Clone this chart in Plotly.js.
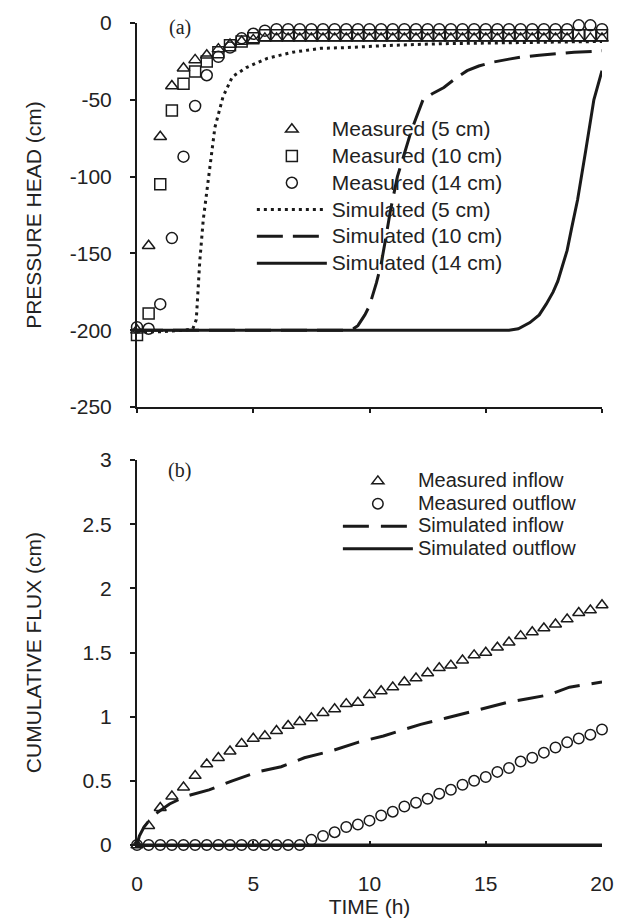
<!DOCTYPE html>
<html>
<head>
<meta charset="utf-8">
<script src="https://cdn.plot.ly/plotly-3.0.1.min.js"></script>
<style>html,body{margin:0;padding:0;background:#fff;}#chart{width:622px;height:919px;}</style>
</head>
<body>
<div id="chart"></div>
<script>
// ---------- Panel (a): pressure head ----------
const timeMeasured = [0,0.5,1,1.5,2,2.5,3,3.5,4,4.5,5,5.5,6,6.5,7,7.5,8,8.5,9,9.5,10,10.5,11,11.5,12,12.5,13,13.5,14,14.5,15,15.5,16,16.5,17,17.5,18,18.5,19,19.5,20];
const measured5 = [-200,-145,-74,-41,-29.5,-24,-21,-17,-14,-12,-11,-10,-10,-10,-10,-10,-10,-10,-10,-10,-10,-10,-10,-10,-10,-10,-10,-10,-10,-10,-10,-10,-10,-10,-10,-10,-10,-10,-10,-10,-10];
const measured10 = [-203,-189,-105,-57,-39.5,-31.5,-25,-19,-14.5,-12,-10,-8,-8,-8,-8,-8,-8,-8,-8,-8,-8,-8,-8,-8,-8,-8,-8,-8,-8,-8,-8,-8,-8,-8,-8,-8,-8,-8,-8,-8,-8];
const measured14 = [-198,-199,-183,-140,-87,-54,-34,-22,-16,-10,-7,-5,-4,-4,-4,-4,-4,-4,-4,-4,-4,-4,-4,-4,-4,-4,-4,-4,-4,-4,-4,-4,-4,-4,-4,-4,-4,-4,-1.5,-1.5,-4];

const timeSim5 = [0,1,2,2.4,2.55,2.7,2.85,3.1,3.35,3.7,4.1,4.7,5.6,6.7,7.9,9,11,13,15,17,20];
const sim5 = [-201,-201,-200,-199,-193,-155,-128,-98,-68,-48,-35,-29,-23,-19,-16.5,-16,-14.5,-13.5,-13,-12.5,-12];

const timeSim10 = [0,3,6,9,9.3,9.5,9.8,10.0,10.3,10.5,10.7,10.9,11.2,11.5,11.8,12.0,12.3,12.7,13.2,13.7,14.2,14.7,15.3,16.0,16.6,17.3,18.0,18.8,19.6,20];
const sim10 = [-200,-200,-200,-200,-199,-197,-190,-184,-169,-157,-140,-122,-100,-85,-70,-62,-50,-46,-42,-36,-31,-28,-25.5,-23.5,-22,-21,-20,-19,-18.5,-18];

const timeSim14 = [0,4,8,12,16,16.4,16.9,17.3,17.6,17.9,18.1,18.3,18.5,18.7,18.95,19.3,19.65,20];
const sim14 = [-200,-200,-200,-200,-200,-199,-195,-190,-183,-175,-168,-158,-148,-133,-115,-83,-50,-31];

// ---------- Panel (b): cumulative flux ----------
const measuredInflow = [0,0.15,0.29,0.38,0.45,0.54,0.63,0.68,0.73,0.79,0.83,0.85,0.89,0.93,0.96,0.99,1.03,1.06,1.10,1.11,1.17,1.20,1.23,1.27,1.30,1.34,1.38,1.40,1.44,1.48,1.50,1.54,1.58,1.63,1.66,1.69,1.72,1.76,1.81,1.83,1.87];
const measuredOutflow = [0,0,0,0,0,0,0,0,0,0,0,0,0,0,0,0.04,0.07,0.10,0.14,0.16,0.19,0.23,0.26,0.30,0.33,0.36,0.40,0.43,0.47,0.50,0.53,0.57,0.60,0.65,0.68,0.72,0.76,0.80,0.83,0.86,0.90];

const timeSimIn = [0,0.1,0.3,0.7,1.4,2.1,3.1,4.1,5.2,6.2,7.2,8.3,9.5,10.6,11.3,12.2,13.3,14.2,15.1,15.9,16.8,17.7,18.6,19.6,20];
const simInflow = [0,0.07,0.14,0.23,0.32,0.38,0.43,0.50,0.57,0.61,0.68,0.73,0.80,0.85,0.89,0.94,0.99,1.03,1.07,1.11,1.14,1.17,1.23,1.26,1.27];

const timeSimOut = [0,5,10,15,20];
const simOutflow = [0,0,0,0,0];

// ---------- Labels ----------
const namesA = ['Measured (5 cm)','Measured (10 cm)','Measured (14 cm)','Simulated (5 cm)','Simulated (10 cm)','Simulated (14 cm)'];
const namesB = ['Measured inflow','Measured outflow','Simulated inflow','Simulated outflow'];
const xTickVals = [0,5,10,15,20];
const xTickText = ['0','5','10','15','20'];
const yTickValsA = [-250,-200,-150,-100,-50,0];
const yTickTextA = ['-250','-200','-150','-100','-50','0'];
const yTickValsB = [0,0.5,1,1.5,2,2.5,3];
const yTickTextB = ['0','0.5','1','1.5','2','2.5','3'];

const FONT = 'Arial, "Liberation Sans", sans-serif';
const SERIF = '"Times New Roman", "Liberation Serif", serif';
const INK = '#1a1a1a';
const spanA = s => '<span style="font-size:21px">' + s + '</span>';
const spanB = s => '<span style="font-size:20px">' + s + '</span>';

const mk = (sym, size) => ({symbol: sym, size: size, color: INK, line: {color: INK, width: 1.5}});

const traces = [
  {x: timeMeasured, y: measured5, mode: 'markers', name: spanA(namesA[0]), marker: mk('triangle-up-open', 11), xaxis: 'x', yaxis: 'y', legend: 'legend', cliponaxis: false},
  {x: timeMeasured, y: measured10, mode: 'markers', name: spanA(namesA[1]), marker: mk('square-open', 11), xaxis: 'x', yaxis: 'y', legend: 'legend', cliponaxis: false},
  {x: timeMeasured, y: measured14, mode: 'markers', name: spanA(namesA[2]), marker: mk('circle-open', 11), xaxis: 'x', yaxis: 'y', legend: 'legend', cliponaxis: false},
  {x: timeSim5, y: sim5, mode: 'lines', name: spanA(namesA[3]), line: {color: INK, width: 3, dash: '3px,4px'}, xaxis: 'x', yaxis: 'y', legend: 'legend', cliponaxis: false},
  {x: timeSim10, y: sim10, mode: 'lines', name: spanA(namesA[4]), line: {color: INK, width: 3, dash: '26px,10px'}, xaxis: 'x', yaxis: 'y', legend: 'legend', cliponaxis: false},
  {x: timeSim14, y: sim14, mode: 'lines', name: spanA(namesA[5]), line: {color: INK, width: 3}, xaxis: 'x', yaxis: 'y', legend: 'legend', cliponaxis: false},

  {x: timeMeasured, y: measuredInflow, mode: 'markers', name: spanB(namesB[0]), marker: mk('triangle-up-open', 10.5), xaxis: 'x2', yaxis: 'y2', legend: 'legend2', cliponaxis: false},
  {x: timeMeasured, y: measuredOutflow, mode: 'markers', name: spanB(namesB[1]), marker: mk('circle-open', 10.5), xaxis: 'x2', yaxis: 'y2', legend: 'legend2', cliponaxis: false},
  {x: timeSimIn, y: simInflow, mode: 'lines', name: spanB(namesB[2]), line: {color: INK, width: 3, dash: '26px,12px'}, xaxis: 'x2', yaxis: 'y2', legend: 'legend2', cliponaxis: false},
  {x: timeSimOut, y: simOutflow, mode: 'lines', name: spanB(namesB[3]), line: {color: INK, width: 3}, xaxis: 'x2', yaxis: 'y2', legend: 'legend2', cliponaxis: false}
];

const axisBase = {
  showgrid: false, zeroline: false, showline: true, linecolor: INK, linewidth: 2,
  tickcolor: INK, tickwidth: 2, tickfont: {family: FONT, size: 21, color: '#222'},
  tickmode: 'array'
};

const layout = {
  width: 622, height: 919,
  margin: {l: 137.3, r: 20.3, t: 22.7, b: 74, pad: 0},
  paper_bgcolor: '#fff', plot_bgcolor: '#fff',
  font: {family: FONT, color: '#222'},
  showlegend: true,
  xaxis: Object.assign({}, axisBase, {
    domain: [0, 1], anchor: 'y', range: [0, 20], tickvals: xTickVals, ticktext: xTickText,
    showticklabels: false, ticks: 'outside', ticklen: 4
  }),
  yaxis: Object.assign({}, axisBase, {
    domain: [0.5327, 1], anchor: 'x', range: [-250, 0], tickvals: yTickValsA, ticktext: yTickTextA,
    ticks: 'outside', ticklen: 5, ticklabelstandoff: 14,
    title: {text: 'PRESSURE HEAD (cm)', font: {family: FONT, size: 21, color: '#222'}, standoff: 22}
  }),
  xaxis2: Object.assign({}, axisBase, {
    domain: [0, 1], anchor: 'y2', range: [0, 20], tickvals: xTickVals, ticktext: xTickText,
    ticks: 'inside', ticklen: 4, ticklabelstandoff: 19,
    title: {text: 'TIME (h)', font: {family: FONT, size: 21, color: '#222'}, standoff: 4}
  }),
  yaxis2: Object.assign({}, axisBase, {
    domain: [0, 0.4682], anchor: 'x2', range: [0, 3], tickvals: yTickValsB, ticktext: yTickTextB,
    ticks: 'outside', ticklen: 5, ticklabelstandoff: 14,
    title: {text: 'CUMULATIVE FLUX (cm)', font: {family: FONT, size: 21, color: '#222'}, standoff: 35}
  }),
  legend: {
    x: 0.2470, y: 0.8932, xanchor: 'left', yanchor: 'top', bgcolor: 'rgba(0,0,0,0)',
    borderwidth: 0, itemwidth: 70, font: {family: FONT, size: 18.3, color: '#222'}, tracegroupgap: 0
  },
  legend2: {
    x: 0.432, y: 0.4624, xanchor: 'left', yanchor: 'top', bgcolor: 'rgba(0,0,0,0)',
    borderwidth: 0, itemwidth: 70, font: {family: FONT, size: 15, color: '#222'}, tracegroupgap: 0
  },
  annotations: [
    {text: '(a)', xref: 'x', yref: 'y', x: 1.84, y: -2.8, showarrow: false, xanchor: 'center', yanchor: 'middle', font: {family: SERIF, size: 20, color: '#222'}},
    {text: '(b)', xref: 'x2', yref: 'y2', x: 1.84, y: 2.92, showarrow: false, xanchor: 'center', yanchor: 'middle', font: {family: SERIF, size: 20, color: '#222'}}
  ]
};

Plotly.newPlot('chart', traces, layout, {displayModeBar: false, staticPlot: true});
</script>
</body>
</html>
